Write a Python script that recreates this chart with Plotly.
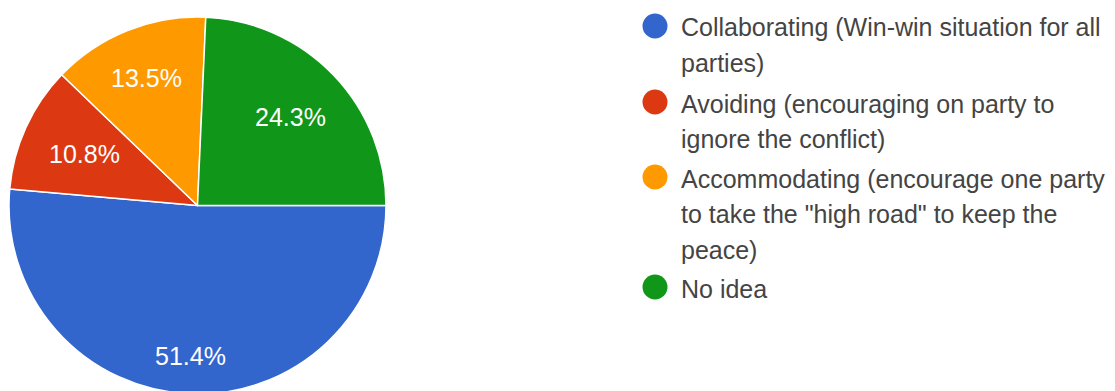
import math
import plotly.graph_objects as go

# Survey responses: preferred conflict-handling approach
labels = [
    "Collaborating (Win-win situation for all parties)",
    "Avoiding (encouraging on party to ignore the conflict)",
    "Accommodating (encourage one party to take the \"high road\" to keep the peace)",
    "No idea",
]
legend_lines = [
    ["Collaborating (Win-win situation for all", "parties)"],
    ["Avoiding (encouraging on party to", "ignore the conflict)"],
    ["Accommodating (encourage one party", "to take the \"high road\" to keep the", "peace)"],
    ["No idea"],
]
percentages = [51.4, 10.8, 13.5, 24.3]
colors = ["#3366cc", "#dc3912", "#ff9900", "#109618"]

W, H = 1115, 400
FONT = "Arial, Liberation Sans, sans-serif"

# Pie geometry in pixels
cx, cy, R = 197.5, 205.5, 188.5
# radial placement of the percentage labels (fraction of radius)
label_radius = [0.80, 0.66, 0.73, 0.68]

fig = go.Figure()
fig.add_trace(go.Pie(
    labels=labels,
    values=percentages,
    sort=False,
    direction="clockwise",
    rotation=90,
    marker=dict(colors=colors, line=dict(color="white", width=1.5)),
    textinfo="none",
    hoverinfo="label+percent",
    showlegend=False,
    domain=dict(x=[(cx - R) / W, (cx + R) / W], y=[(H - cy - R) / H, (H - cy + R) / H]),
))

annotations = []
start = 0.0
total = sum(percentages)
for v, rf in zip(percentages, label_radius):
    span = v / total * 360.0
    mid = math.radians(-(start + span / 2))
    start += span
    px = cx + math.cos(mid) * R * rf
    py = cy - math.sin(mid) * R * rf
    annotations.append(dict(
        x=px / W, y=(H - py) / H, xref="paper", yref="paper",
        text=f"{v:.1f}%", showarrow=False, xanchor="center", yanchor="middle",
        font=dict(family=FONT, size=25, color="white"),
    ))

# Legend: circle markers with wrapped text lines
shapes = []
lx_dot, lx_text = 655, 679
first_line_y = [26, 102, 177, 287]
line_step = 35.5
for color, lines, y0 in zip(colors, legend_lines, first_line_y):
    shapes.append(dict(
        type="circle", xref="paper", yref="paper",
        xsizemode="pixel", ysizemode="pixel",
        xanchor=lx_dot / W, yanchor=(H - y0) / H,
        x0=-12.5, x1=12.5, y0=-12.5, y1=12.5,
        fillcolor=color, line=dict(width=0),
    ))
    for k, line in enumerate(lines):
        yy = y0 + k * line_step + 1.5
        annotations.append(dict(
            x=lx_text / W, y=(H - yy) / H, xref="paper", yref="paper",
            text=line, showarrow=False, xanchor="left", yanchor="middle",
            font=dict(family=FONT, size=25, color="#444444"),
        ))

fig.update_layout(
    width=W, height=H,
    margin=dict(l=0, r=0, t=0, b=0),
    paper_bgcolor="white", plot_bgcolor="white",
    annotations=annotations, shapes=shapes,
    xaxis=dict(visible=False), yaxis=dict(visible=False),
)

fig.write_html(
    "out.html",
    config={"displayModeBar": False},
    post_script="document.documentElement.style.overflow='hidden';document.body.style.overflow='hidden';",
)
